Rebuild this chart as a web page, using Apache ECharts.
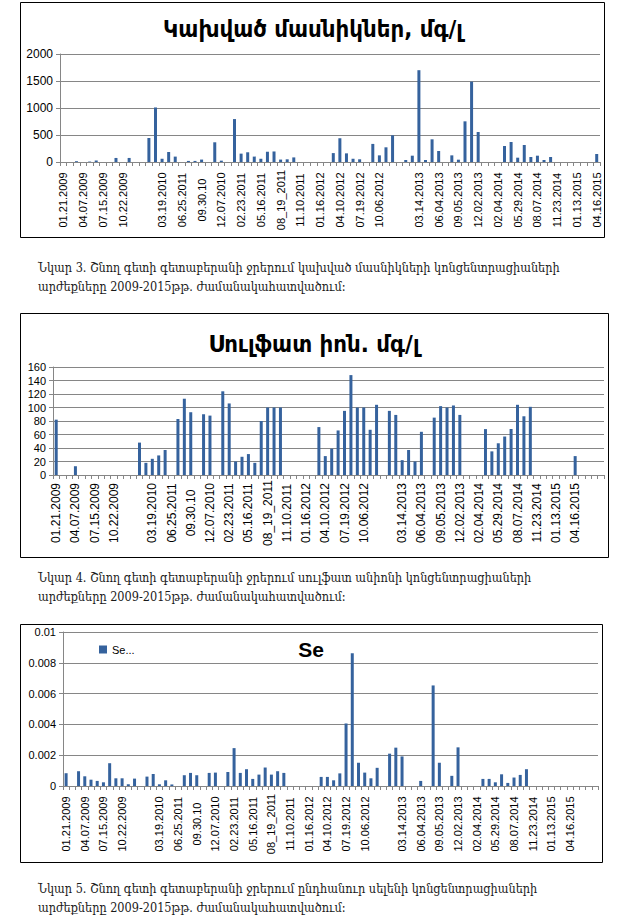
<!DOCTYPE html>
<html>
<head>
<meta charset="utf-8">
<script src="https://cdn.jsdelivr.net/npm/echarts@6.0.0/dist/echarts.min.js"></script>
<style>
html,body{margin:0;padding:0;background:#fff;}
#c{width:629px;height:920px;}
</style>
</head>
<body>
<div id="c"></div>
<script>
// tick labels shown every 3rd category ('' = blank slot)
const tickLabels = ['01.21.2009','04.07.2009','07.15.2009','10.22.2009','','03.19.2010','06.25.2011','09.30.10','12.07.2010','02.23.2011','05.16.2011','08_19_2011','11.10.2011','01.16.2012','04.10.2012','07.19.2012','10.06.2012','','03.14.2013','06.04.2013','09.05.2013','12.02.2013','02.04.2014','05.29.2014','08.07.2014','11.23.2014','01.13.2015','04.16.2015'];

// Suspended particles, mg/l (82 samples)
const suspended = [
 null,null,15,null,8,28,null,null,75,null,
 75,null,null,445,1010,60,185,100,null,20,
 20,45,null,365,25,null,795,155,180,100,
 60,190,195,45,50,85,null,null,null,null,
 null,165,440,160,60,50,null,335,123,272,
 494,null,37,117,1700,37,420,204,null,123,
 43,753,1488,556,null,null,null,296,370,80,
 315,93,117,37,93,null,null,null,null,null,
 null,148
];

// Sulfate ion, mg/l (86 samples)
const sulfate = [
 82,null,null,13,null,null,null,null,null,null,
 null,null,null,48,18,24,29,37,null,83,
 113,93,null,90,88,null,124,106,20,27,
 31,18,80,100,100,100,null,null,null,null,
 null,71,28,39,66,95,148,100,100,67,
 104,null,95,89,22,37,20,64,null,85,
 102,100,103,89,null,null,null,68,35,47,
 57,68,104,87,101,null,null,null,null,null,
 null,28,null,null,null,null
];

// Total selenium (86 samples)
const selenium = [
 0.00083,null,0.00096,0.00063,0.00041,0.00033,0.00024,0.00148,0.0005,0.0005,
 0.00011,0.00048,null,0.00061,0.00078,0.00011,0.00037,0.0001,null,0.0007,
 0.00085,0.0007,null,0.00085,0.00087,null,0.00091,0.00246,0.00085,0.00109,
 0.00046,0.00074,0.0012,0.00074,0.00096,0.00085,null,null,null,null,
 null,0.00059,0.00059,0.00037,0.00082,0.00406,0.00862,0.00151,0.00087,0.0005,
 0.00118,null,0.0021,0.00249,0.00192,null,null,0.00033,null,0.00653,
 0.00151,null,0.00066,0.00251,null,null,null,0.00046,0.00046,0.00024,
 0.00076,0.0002,0.00055,0.00072,0.00109,null,null,null,null,null,
 null,null,null,null,null,null
];

const titles = ['Կախված մասնիկներ, մգ/լ', 'Սուլֆատ իոն. մգ/լ', 'Se'];
const seriesNames = ['Կախված մասնիկներ', 'Սուլֆատ իոն', 'Se...'];
const captions = [
 ['Նկար 3. Շնող գետի գետաբերանի ջրերում կախված մասնիկների կոնցենտրացիաների', 'արժեքները 2009-2015թթ. ժամանակահատվածում։'],
 ['Նկար 4. Շնող գետի գետաբերանի ջրերում սուլֆատ անիոնի կոնցենտրացիաների', 'արժեքները 2009-2015թթ. ժամանակահատվածում։'],
 ['Նկար 5. Շնող գետի գետաբերանի ջրերում ընդհանուր սելենի կոնցենտրացիաների', 'արժեքները 2009-2015թթ. ժամանակահատվածում։']
];

function makeCats(n){
  const a = [];
  for (let i = 0; i < n; i++) a.push(i % 3 === 0 ? (tickLabels[i/3] || '') : '');
  return a;
}

const GRAY = '#868686';
const BAR = '#35629d';

function xAx(gi, n, fs){
  return {
    type:'category', gridIndex:gi, data:makeCats(n),
    axisLine:{lineStyle:{color:GRAY}},
    axisTick:{show:true, interval:0, length:4, lineStyle:{color:GRAY}},
    axisLabel:{interval:0, rotate:90, align:'center', verticalAlign:'middle', margin:38,
      fontFamily:'"Liberation Sans", Arial, sans-serif', fontSize:fs, color:'#000'},
    splitLine:{show:false}
  };
}
function yAx(gi, max, interval, fs){
  return {
    type:'value', gridIndex:gi, min:0, max:max, interval:interval,
    axisLine:{show:true, lineStyle:{color:GRAY}},
    axisTick:{show:true, length:4, lineStyle:{color:GRAY}},
    axisLabel:{fontFamily:'"Liberation Sans", Arial, sans-serif', fontSize:fs, color:'#000', margin:7,
      formatter: v => String(+v.toPrecision(6))},
    splitLine:{show:true, lineStyle:{color:GRAY, width:1}}
  };
}

const frames = [[20,2,584,235],[20,313,588,244],[20,624,582,238]];
const g = [];
frames.forEach(f => g.push({type:'rect', silent:true, shape:{x:f[0]+0.5,y:f[1]+0.5,width:f[2],height:f[3]}, style:{fill:'none', stroke:'#000', lineWidth:1}}));
const titlePos = [[313,29,23,0.93],[314,344,23,0.93],[311,649,21,1]];
titles.forEach((t,i) => g.push({type:'text', silent:true, x:titlePos[i][0], y:titlePos[i][1], scaleX:titlePos[i][3],
  style:{text:t, fill:'#000', align:'center', verticalAlign:'middle',
    font:'bold '+titlePos[i][2]+'px ' + (i===2 ? '"Liberation Sans", Arial' : '"DejaVu Sans"') + ', sans-serif'}}));
const capY = [268, 578, 889];
captions.forEach((c,i) => c.forEach((line,j) => g.push({type:'text', silent:true, x:38, y:capY[i]+j*19, scaleX:0.87,
  style:{text:line, fill:'#1a1a1a', align:'left', verticalAlign:'middle', font:'13px "DejaVu Serif", serif'}})));

const option = {
  animation:false,
  backgroundColor:'#fff',
  grid:[
    {left:60, top:54, width:540, height:108},
    {left:53, top:367, width:551, height:108},
    {left:63, top:632, width:535, height:154}
  ],
  legend:{data:['Se...'], left:94, top:639, icon:'rect', itemWidth:8, itemHeight:8, itemGap:4,
    textStyle:{fontFamily:'"Liberation Sans", Arial, sans-serif', fontSize:11, color:'#000'}},
  xAxis:[xAx(0, suspended.length, 11), xAx(1, sulfate.length, 12), xAx(2, selenium.length, 11)],
  yAxis:[yAx(0, 2000, 500, 12), yAx(1, 160, 20, 11), yAx(2, 0.01, 0.002, 11)],
  series:[
    {name:seriesNames[0], type:'bar', xAxisIndex:0, yAxisIndex:0, data:suspended, barWidth:3, itemStyle:{color:BAR}},
    {name:seriesNames[1], type:'bar', xAxisIndex:1, yAxisIndex:1, data:sulfate, barWidth:3, itemStyle:{color:BAR}},
    {name:seriesNames[2], type:'bar', xAxisIndex:2, yAxisIndex:2, data:selenium, barWidth:3, itemStyle:{color:BAR}}
  ],
  graphic:g
};

const chart = echarts.init(document.getElementById('c'), null, {renderer:'svg', width:629, height:920});
chart.setOption(option);
</script>
</body>
</html>
